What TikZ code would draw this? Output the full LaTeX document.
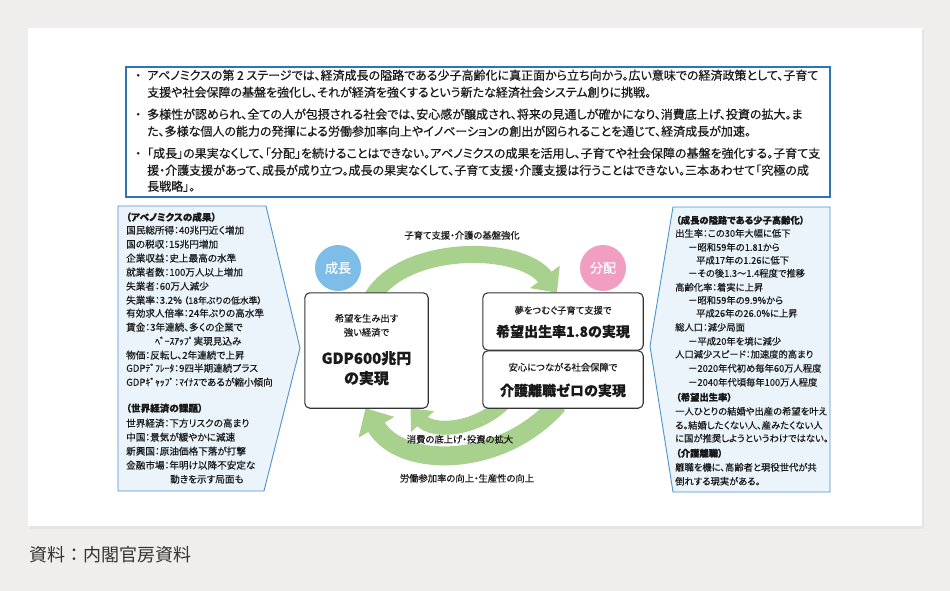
\documentclass[tikz,border=0pt]{standalone}
\usepackage{fontspec}
\setmainfont{Noto Sans CJK JP}
\newfontfamily\jpp[RawFeature=+palt, FakeBold=0.4]{Noto Sans CJK JP}
\usetikzlibrary{arrows.meta}
\definecolor{bg}{HTML}{EFEEEC}
\definecolor{frameblue}{HTML}{2E75B6}
\definecolor{panelblue}{HTML}{4F93CC}
\definecolor{panelfill}{HTML}{EBF4FB}
\definecolor{leaf}{HTML}{A9D18E}
\definecolor{growth}{HTML}{7DBDE8}
\definecolor{share}{HTML}{F19EC2}
\definecolor{ink}{HTML}{1A1A1A}
\definecolor{boxline}{HTML}{333333}
\begin{document}
\begin{tikzpicture}[x=1pt,y=-1pt,
  every node/.style={inner sep=0pt, text=ink},
  topline/.style={anchor=west, font=\jpp\fontsize{12.0}{14}\selectfont, text height=0.88em, text depth=0.12em},
  pline/.style={anchor=west, font=\jpp\fontsize{9.3}{12}\selectfont, text height=0.88em, text depth=0.12em},
  lpline/.style={anchor=west, font=\jpp\fontsize{9.6}{12}\selectfont, text height=0.88em, text depth=0.12em},
  lbl/.style={font=\jpp\fontsize{9.3}{12}\selectfont, text height=0.88em, text depth=0.12em},
  bigl/.style={font=\jpp\bfseries\fontsize{14}{16}\selectfont, text height=0.88em, text depth=0.12em},
  stagebox/.style={draw=boxline, line width=1.1pt, rounded corners=5pt, fill=white},
  badge/.style={circle, minimum size=46pt, text=white, font=\jpp\fontsize{13}{13}\selectfont},
  greenband/.style={draw=leaf, line width=#1, line cap=butt}
]
\useasboundingbox (0,0) rectangle (950,591);
% background and card
\fill[bg] (0,0) rectangle (950,591);
\fill[black!10] (30,30) rectangle (924,529);
\fill[white] (28,28) rectangle (922,526);

% top summary box
\draw[frameblue, line width=2.4pt, fill=white] (126,67) rectangle (830,197);
\foreach \x/\y/\t [count=\i] in {
 135/76/・, 147/76/アベノミクスの第 2 ステージでは、経済成長の隘路である少子高齢化に真正面から立ち向かう。広い意味での経済政策として、子育て,
 147/93/支援や社会保障の基盤を強化し、それが経済を強くするという新たな経済社会システム創りに挑戦。,
 135/115/・, 147/115/多様性が認められ、全ての人が包摂される社会では、安心感が醸成され、将来の見通しが確かになり、消費底上げ、投資の拡大。ま,
 147/132/た、多様な個人の能力の発揮による労働参加率向上やイノベーションの創出が図られることを通じて、経済成長が加速。,
 135/154/・, 147/154/「成長」の果実なくして、「分配」を続けることはできない。アベノミクスの成果を活用し、子育てや社会保障の基盤を強化する。子育て支,
 147/171/援・介護支援があって、成長が成り立つ。成長の果実なくして、子育て支援・介護支援は行うことはできない。三本あわせて「究極の成,
 147/187/長戦略」。}
 \node[topline] (top\i) at (\x,\y) {\t};

% left panel
\filldraw[draw=panelblue, fill=panelfill, line width=0.9pt]
  (118,206) -- (266,206) -- (300,348) -- (264,491) -- (118,491) -- cycle;
\foreach \x/\y/\t [count=\i] in {
 126/217/{\bfseries （アベノミクスの成果）},
 126/230/国民総所得：40兆円近く増加,
 126/244/国の税収：15兆円増加,
 126/258/企業収益：史上最高の水準,
 126/272/就業者数：100万人以上増加,
 126/286/失業者：60万人減少,
 126/300/失業率：3.2\%{\fontsize{8.8}{10}\selectfont\ （18年ぶりの低水準）},
 126/313/有効求人倍率：24年ぶりの高水準,
 126/327/賃金：3年連続、多くの企業で,
 155/341/ﾍﾞｰｽｱｯﾌﾟ実現見込み,
 126/355/物価：反転し、2年連続で上昇,
 126/368/GDPﾃﾞﾌﾚｰﾀ：9四半期連続プラス,
 126/382/GDPｷﾞｬｯﾌﾟ：ﾏｲﾅｽであるが縮小傾向,
 126/408/{\bfseries （世界経済の課題）},
 126/423/世界経済：下方リスクの高まり,
 126/437/中国：景気が緩やかに減速,
 126/451/新興国：原油価格下落が打撃,
 126/465/金融市場：年明け以降不安定な,
 170/479/動きを示す局面も}
 \node[lpline] (lp\i) at (\x,\y) {\t};

% right panel
\filldraw[draw=panelblue, fill=panelfill, line width=0.9pt]
  (673,207) -- (830,207) -- (830,492) -- (673,492) -- (650,346) -- cycle;
\foreach \x/\y/\t [count=\i] in {
 676/220/{\bfseries （成長の隘路である少子高齢化）},
 675/233/出生率：この30年大幅に低下,
 688/247/－昭和59年の1.81から,
 696/260/平成17年の1.26に低下,
 688/273/－その後1.3～1.4程度で推移,
 675/287/高齢化率：着実に上昇,
 688/300/－昭和59年の9.9\%から,
 696/313/平成26年の26.0\%に上昇,
 675/327/総人口：減少局面,
 688/341/－平成20年を境に減少,
 675/354/人口減少スピード：加速度的高まり,
 688/368/－2020年代初め毎年60万人程度,
 688/382/－2040年代頃毎年100万人程度,
 676/397/{\bfseries （希望出生率）},
 675/411/一人ひとりの結婚や出産の希望を叶え,
 675/425/る。結婚したくない人、産みたくない人,
 675/438/に国が推奨しようというわけではない。,
 676/453/{\bfseries （介護離職）},
 675/467/離職を機に、高齢者と現役世代が共,
 675/481/倒れする現実がある。}
 \node[pline] (rp\i) at (\x,\y) {\t};

% stage boxes (placed first so arrows can refer to them)
\node[minimum width=123pt, minimum height=115pt] (gdp) at (366.5,350.5) {};
\node[minimum width=160pt, minimum height=57pt] (birth) at (563,321.5) {};
\node[minimum width=160pt, minimum height=57pt] (care) at (563,379.5) {};

% green arrows
\draw[greenband=17pt, -{Triangle[width=36pt,length=20pt]}]
  ([xshift=6pt,yshift=-4pt]gdp.north) .. controls (405,244) and (520,244) .. ([xshift=-6pt]birth.north);
\draw[greenband=19pt, -{Triangle[width=40pt,length=22pt]}]
  ([xshift=-5pt,yshift=4pt]care.south) .. controls (500,470) and (400,468) .. ([xshift=-1pt]gdp.south);
\draw[greenband=14pt, -{Triangle[width=30pt,length=18pt]}]
  ([xshift=-60pt,yshift=4pt]care.south) .. controls (472,432) and (432,432) .. ([xshift=44pt]gdp.south);

% boxes drawn over arrow ends
\draw[stagebox] (gdp.north west) rectangle (gdp.south east);
\draw[stagebox] (birth.north west) rectangle (birth.south east);
\draw[stagebox] (care.north west) rectangle (care.south east);

% box texts
\node[lbl] (g1) at (366.5,318) {希望を生み出す};
\node[lbl] (g2) at (366.5,332) {強い経済で};
\node[bigl, font=\jpp\bfseries\fontsize{15}{16}\selectfont] (g3) at (366.5,360) {GDP600兆円};
\node[bigl, font=\jpp\bfseries\fontsize{15}{16}\selectfont] (g4) at (366.5,380) {の実現};
\node[lbl] (b1) at (563,310) {夢をつむぐ子育て支援で};
\node[bigl] (b2) at (563,333) {希望出生率1.8の実現};
\node[lbl] (c1) at (563,367) {安心につながる社会保障で};
\node[bigl] (c2) at (563,392) {介護離職ゼロの実現};

% badges
\node[badge, fill=growth] (seicho) at (338,268) {成長};
\node[badge, fill=share] (bunpai) at (603,268) {分配};

% arrow labels
\node[lbl] (a1) at (462,235) {子育て支援・介護の基盤強化};
\node[lbl] (a2) at (460,439) {消費の底上げ・投資の拡大};
\node[lbl] (a3) at (467,478) {労働参加率の向上・生産性の向上};

% source
\node[anchor=west, font=\fontsize{18}{20}\selectfont, text=black!80] (src) at (29,555) {資料：内閣官房資料};
\end{tikzpicture}
\end{document}
